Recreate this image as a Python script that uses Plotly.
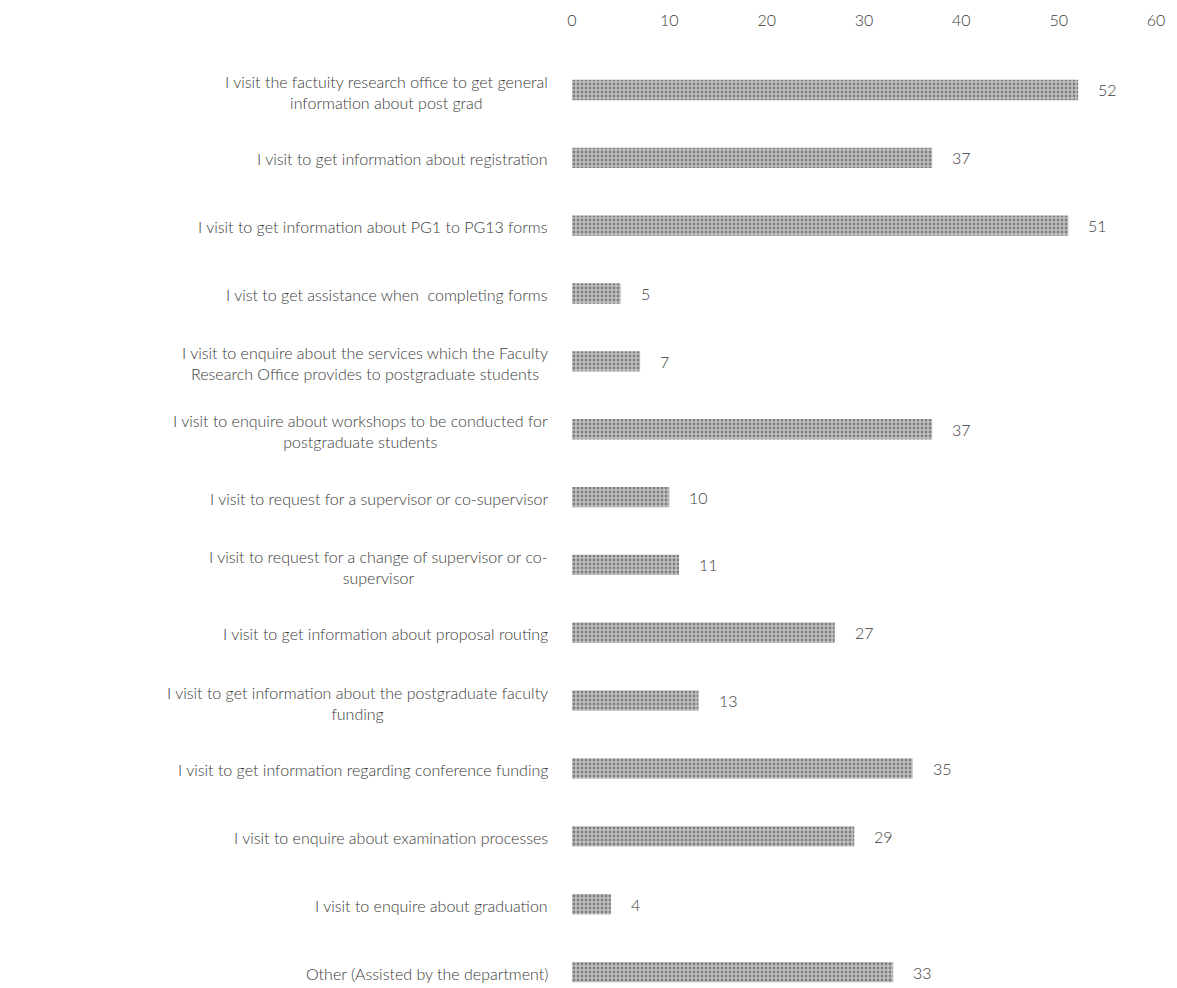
import plotly.graph_objects as go

categories = [
    "I visit the factuity research office to get general<br>information about post grad",
    "I visit to get information about registration",
    "I visit to get information about PG1 to PG13 forms",
    "I vist to get assistance when  completing forms",
    "I visit to enquire about the services which the Faculty<br>Research Office provides to postgraduate students",
    "I visit to enquire about workshops to be conducted for<br>postgraduate students",
    "I visit to request for a supervisor or co-supervisor",
    "I visit to request for a change of supervisor or co-<br>supervisor",
    "I visit to get information about proposal routing",
    "I visit to get information about the postgraduate faculty<br>funding",
    "I visit to get information regarding conference funding",
    "I visit to enquire about examination processes",
    "I visit to enquire about graduation",
    "Other (Assisted by the department)",
]
values = [52, 37, 51, 5, 7, 37, 10, 11, 27, 13, 35, 29, 4, 33]
tick_values = [0, 10, 20, 30, 40, 50, 60]

FONT = "Lato"
TXT = "#3a3a3a"

fig = go.Figure()
fig.add_trace(go.Bar(
    x=values, y=categories, orientation="h",
    marker=dict(
        color="#b5b5b5",
        line=dict(width=0),
        pattern=dict(shape=".", fgcolor="#7e7e7e", bgcolor="#c2c2c2",
                     size=4, solidity=0.4, fillmode="replace"),
    ),
    hoverinfo="skip",
))

annotations = []
for c, v in zip(categories, values):
    two = "<br>" in c
    annotations.append(dict(
        x=0, y=c, xref="x", yref="y", text=c, showarrow=False,
        xanchor="right", yanchor="middle", align="center", xshift=-22,
        yshift=-2 if two else -1,
        font=dict(family=FONT, size=16, color=TXT, weight=300),
    ))
    annotations.append(dict(
        x=v, y=c, xref="x", yref="y", text=str(v), showarrow=False,
        xanchor="left", yanchor="middle", xshift=18,
        font=dict(family=FONT, size=16, color=TXT, weight=300),
    ))

fig.update_layout(
    width=1177, height=988,
    margin=dict(l=572, r=21, t=30, b=0),
    paper_bgcolor="white", plot_bgcolor="white",
    bargap=0.70,
    showlegend=False,
    annotations=annotations,
    xaxis=dict(
        side="top", range=[0, 60], tickvals=tick_values,
        showgrid=False, zeroline=False, showline=False, ticks="",
        tickfont=dict(family=FONT, size=16, color=TXT, weight=300),
    ),
    yaxis=dict(
        showticklabels=False, showgrid=False, zeroline=False, showline=False,
        range=[13.235, -0.884], ticks="",
    ),
)

fig.write_html("out.html")
